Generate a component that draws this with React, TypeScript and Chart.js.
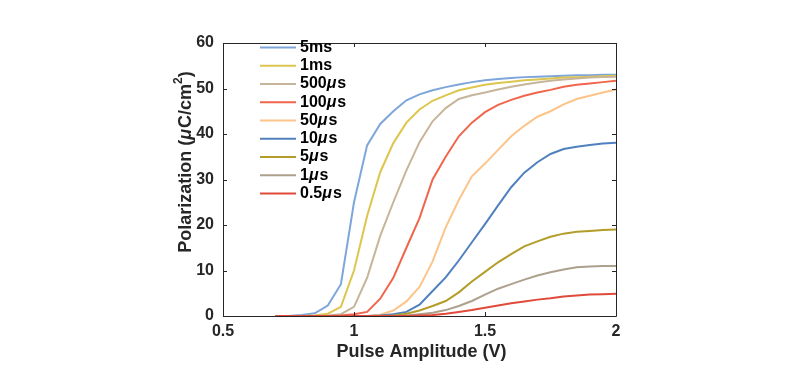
import React, { useEffect, useRef } from "react";
import { Chart, registerables } from "chart.js";

Chart.register(...registerables);

const voltages = [0.7, 0.75, 0.8, 0.85, 0.9, 0.95, 1.0, 1.05, 1.1, 1.15, 1.2, 1.25, 1.3, 1.35, 1.4, 1.45, 1.5, 1.55, 1.6, 1.65, 1.7, 1.75, 1.8, 1.85, 1.9, 1.95, 2.0];

const seriesLabels = ["5ms", "1ms", "500μs", "100μs", "50μs", "10μs", "5μs", "1μs", "0.5μs"];
const seriesColors = ["#7EA6DA", "#DCC64E", "#C7B59A", "#F0664C", "#FDC48A", "#4F81BF", "#B39D2A", "#ADA08D", "#E04A3A"];

const p5ms = [0, 0, 0.2, 0.6, 2.3, 7, 25, 37.5, 42.2, 45, 47.4, 48.7, 49.6, 50.3, 50.9, 51.4, 51.8, 52.1, 52.3, 52.5, 52.6, 52.7, 52.8, 52.9, 52.9, 53, 53];
const p1ms = [0, 0, 0, 0.1, 0.5, 2, 10, 22, 31.6, 38, 42.5, 45.4, 47.3, 48.5, 49.6, 50.2, 50.8, 51.2, 51.5, 51.8, 52, 52.2, 52.4, 52.5, 52.6, 52.7, 52.8];
const p500us = [0, 0, 0, 0, 0.1, 0.4, 2, 8.4, 17.6, 25, 32, 38.2, 42.8, 45.7, 47.7, 48.5, 49.1, 49.8, 50.4, 50.9, 51.3, 51.7, 52, 52.2, 52.4, 52.5, 52.6];
const p100us = [0, 0, 0, 0, 0, 0.1, 0.4, 0.9, 3.8, 8.4, 15, 21.5, 30, 35, 39.5, 42.5, 44.8, 46.4, 47.5, 48.4, 49.1, 49.7, 50.4, 50.8, 51.1, 51.4, 51.7];
const p50us = [0, 0, 0, 0, 0, 0, 0, 0, 0.3, 1.2, 3.2, 6.4, 12, 19.5, 25.5, 30.7, 33.5, 36.5, 39.5, 41.8, 43.8, 45, 46.5, 47.7, 48.4, 49.1, 49.8];
const p10us = [0, 0, 0, 0, 0, 0, 0, 0, 0.1, 0.4, 0.9, 2.5, 5.5, 8.5, 12.2, 16.2, 20.2, 24.3, 28.3, 31.5, 33.8, 35.6, 36.7, 37.2, 37.6, 37.9, 38.1];
const p5us = [0, 0, 0, 0, 0, 0, 0, 0, 0, 0.1, 0.5, 1.2, 2.2, 3.3, 5.2, 7.6, 9.7, 11.8, 13.6, 15.3, 16.4, 17.4, 18.1, 18.5, 18.7, 18.9, 19];
const p1us = [0, 0, 0, 0, 0, 0, 0, 0, 0, 0, 0.1, 0.4, 0.7, 1.3, 2.2, 3.3, 4.7, 6, 7, 8, 8.9, 9.6, 10.2, 10.7, 10.9, 11, 11];
const p05us = [0, 0, 0, 0, 0, 0, 0, 0, 0, 0, 0, 0.1, 0.2, 0.5, 0.9, 1.3, 1.8, 2.3, 2.8, 3.2, 3.6, 3.9, 4.3, 4.5, 4.7, 4.8, 4.9];

const seriesValues = [p5ms, p1ms, p500us, p100us, p50us, p10us, p5us, p1us, p05us];

const xTicks = [0.5, 1, 1.5, 2];
const xTickLabels = ["0.5", "1", "1.5", "2"];
const yTicks = [0, 10, 20, 30, 40, 50, 60];
const xTitle = "Pulse Amplitude (V)";
const yTitleParts = ["Polarization (", "μ", "C/cm", "2", ")"];

const FONT = "'Liberation Sans', Arial, sans-serif";
const AXIS = "#262626";

const decorPlugin = {
  id: "decor",
  afterDraw(chart: any) {
    const ctx = chart.ctx as CanvasRenderingContext2D;
    const { left, right, top, bottom } = chart.chartArea;
    const xs = chart.scales.x;
    const ys = chart.scales.y;
    ctx.save();
    ctx.strokeStyle = AXIS;
    ctx.lineWidth = 1;
    ctx.beginPath();
    ctx.rect(Math.round(left) + 0.5, Math.round(top) + 0.5, Math.round(right - left), Math.round(bottom - top));
    ctx.stroke();
    const tl = 4;
    ctx.beginPath();
    for (const v of xTicks) {
      const px = Math.round(xs.getPixelForValue(v)) + 0.5;
      ctx.moveTo(px, bottom);
      ctx.lineTo(px, bottom - tl);
      ctx.moveTo(px, top);
      ctx.lineTo(px, top + tl);
    }
    for (const v of yTicks) {
      const py = Math.round(ys.getPixelForValue(v)) + 0.5;
      ctx.moveTo(left, py);
      ctx.lineTo(left + tl, py);
      ctx.moveTo(right, py);
      ctx.lineTo(right - tl, py);
    }
    ctx.stroke();

    ctx.textBaseline = "middle";
    ctx.textAlign = "left";
    for (let i = 0; i < seriesLabels.length; i++) {
      const y = 47.5 + i * 18.25;
      ctx.strokeStyle = seriesColors[i];
      ctx.lineWidth = 2;
      ctx.beginPath();
      ctx.moveTo(260, y);
      ctx.lineTo(296, y);
      ctx.stroke();
      ctx.fillStyle = "#000000";
      const parts = seriesLabels[i].split("μ");
      let x = 300;
      ctx.font = `bold 16px ${FONT}`;
      ctx.fillText(parts[0], x, y);
      x += ctx.measureText(parts[0]).width;
      if (parts.length > 1) {
        ctx.font = `italic bold 16px ${FONT}`;
        ctx.fillText("μ", x, y);
        x += ctx.measureText("μ").width + 1;
        ctx.font = `bold 16px ${FONT}`;
        ctx.fillText(parts[1], x, y);
      }
    }

    ctx.fillStyle = AXIS;
    ctx.font = `bold 18px ${FONT}`;
    ctx.textAlign = "center";
    ctx.fillText(xTitle, (left + right) / 2 + 2, 352);

    ctx.translate(186, 162);
    ctx.rotate(-Math.PI / 2);
    ctx.textAlign = "left";
    const fonts = [`bold 18px ${FONT}`, `italic bold 18px ${FONT}`, `bold 18px ${FONT}`, `bold 12px ${FONT}`, `bold 18px ${FONT}`];
    const offs = [0, 0, 0, -7, 0];
    let total = 0;
    const widths: number[] = [];
    for (let i = 0; i < yTitleParts.length; i++) {
      ctx.font = fonts[i];
      const w = ctx.measureText(yTitleParts[i]).width + (i === 1 ? 1 : 0);
      widths.push(w);
      total += w;
    }
    let x = -total / 2;
    for (let i = 0; i < yTitleParts.length; i++) {
      ctx.font = fonts[i];
      ctx.fillText(yTitleParts[i], x, offs[i]);
      x += widths[i];
    }
    ctx.restore();
  },
};

export default function App() {
  const canvasRef = useRef<HTMLCanvasElement | null>(null);

  useEffect(() => {
    if (!canvasRef.current) return;
    const datasets = seriesValues.map((vals, i) => ({
      label: seriesLabels[i],
      data: vals.map((y, j) => ({ x: voltages[j], y })),
      borderColor: seriesColors[i],
      backgroundColor: seriesColors[i],
      borderWidth: 2,
      pointRadius: 0,
      tension: 0,
      fill: false,
      order: -i,
    }));
    const chart = new Chart(canvasRef.current, {
      type: "line",
      data: { datasets },
      options: {
        animation: false,
        responsive: false,
        layout: { padding: { left: 0, right: 177, top: 43, bottom: 0 } },
        plugins: { legend: { display: false }, tooltip: { enabled: false } },
        scales: {
          x: {
            type: "linear",
            min: 0.5,
            max: 2,
            afterBuildTicks: (s: any) => {
              s.ticks = xTicks.map((v) => ({ value: v }));
            },
            afterFit: (s: any) => {
              s.height = 57;
            },
            grid: { display: false, drawTicks: false },
            border: { display: false },
            ticks: {
              color: AXIS,
              font: { family: FONT, size: 16, weight: "bold" },
              padding: 6,
              maxRotation: 0,
              callback: (v: any) => {
                const idx = xTicks.indexOf(Number(v));
                return idx >= 0 ? xTickLabels[idx] : String(v);
              },
            },
          },
          y: {
            type: "linear",
            min: 0,
            max: 60,
            afterBuildTicks: (s: any) => {
              s.ticks = yTicks.map((v) => ({ value: v }));
            },
            afterFit: (s: any) => {
              s.width = 223;
            },
            grid: { display: false, drawTicks: false },
            border: { display: false },
            ticks: {
              color: AXIS,
              font: { family: FONT, size: 16, weight: "bold" },
              padding: 9,
              callback: (v: any) => String(v),
            },
          },
        },
      },
      plugins: [decorPlugin],
    });
    return () => chart.destroy();
  }, []);

  return (
    <div style={{ position: "absolute", left: 0, top: 0, width: 793, height: 373, background: "#fff" }}>
      <canvas ref={canvasRef} width={793} height={373} style={{ display: "block" }} />
    </div>
  );
}
